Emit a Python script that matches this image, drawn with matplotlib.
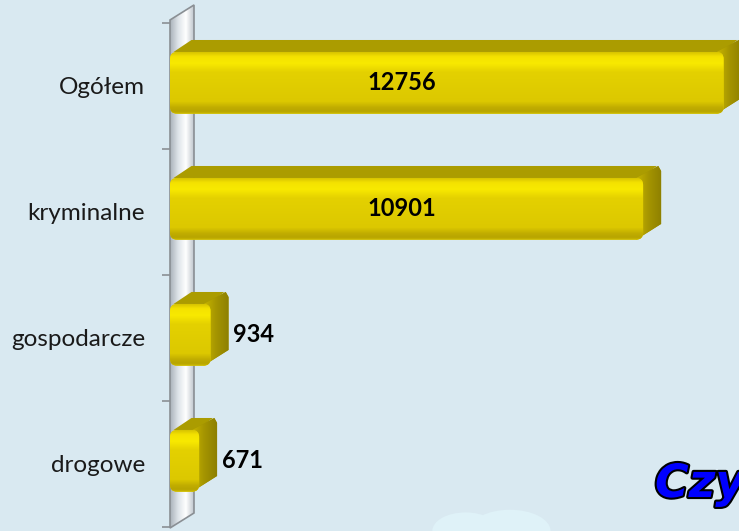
import numpy as np
import matplotlib
matplotlib.use('Agg')
import matplotlib.pyplot as plt
from matplotlib.patches import FancyBboxPatch, Polygon, Ellipse
from matplotlib.colors import LinearSegmentedColormap
import matplotlib.patheffects as pe

# data
categories = ['Ogółem', 'kryminalne', 'gospodarcze', 'drogowe']
values = [12756, 10901, 934, 671]

bg = '#d9e9f1'
W, H = 739, 531
fig = plt.figure(figsize=(W / 100, H / 100), dpi=100)
fig.patch.set_facecolor(bg)
ax = fig.add_axes([0, 0, 1, 1])
ax.set_facecolor(bg)

# pixel <-> data scale
kx = 0.0434          # px per unit on x
x0px = 170           # pixel of x = 0
y0px, band = 86, 126  # pixel centre of first category, px per category
xlim = (-x0px / kx, (W - x0px) / kx)
ylim = ((H - y0px) / band, -y0px / band)

dx = 18 / kx     # bar depth
dy = 12 / band
wall_dx = 24 / kx
wall_dy = 15 / band

# wall
wall = Polygon([(0, -0.524), (wall_dx, -0.524 - wall_dy), (wall_dx, 3.508 - wall_dy), (0, 3.508)],
               closed=True, facecolor='none', edgecolor='#8a8f94', lw=1.2, zorder=2)
ax.add_patch(wall)
wcmap = LinearSegmentedColormap.from_list('w', ['#aab2ba', '#dde3e8', '#ffffff', '#c0c7ce'])
grad = np.tile(np.linspace(0, 1, 64), (64, 1))
im = ax.imshow(grad, cmap=wcmap, extent=(0, wall_dx, 3.6, -0.8), aspect='auto', zorder=1)
im.set_clip_path(wall)

ypos = np.arange(len(categories))
bars = ax.barh(ypos - 0.025, values, height=0.49, color='#e2cf00', zorder=3)

fcmap = LinearSegmentedColormap.from_list('f', [
    (0.0, '#d8c400'), (0.07, '#f4e200'), (0.18, '#f8e900'), (0.32, '#e4d100'),
    (0.8, '#dcc800'), (0.9, '#c0ac00'), (0.96, '#b8a500'), (1.0, '#cdbb00')])
vgrad = np.linspace(0, 1, 128).reshape(-1, 1)
scmap = LinearSegmentedColormap.from_list('s', ['#c6b400', '#a49400', '#8e8000'])

for i, rect in enumerate(bars):
    bx = rect.get_x()
    bw = rect.get_width()
    yt = rect.get_y()
    yb = yt + rect.get_height()
    rect.set_visible(False)
    r = 7 / kx
    # top face
    top = Polygon([(bx + r * 0.5, yt), (bx + r * 0.5 + dx, yt - dy), (bx + bw + dx - r * 0.6, yt - dy),
                   (bx + bw - r * 0.3, yt)], closed=True, facecolor='#ab9c00', edgecolor='none', zorder=3)
    ax.add_patch(top)
    # right face
    side = Polygon([(bx + bw - r, yt), (bx + bw + dx - r * 0.4, yt - dy), (bx + bw + dx, yt - dy + 0.04),
                    (bx + bw + dx, yb - dy - 0.03), (bx + bw - r, yb)],
                   closed=True, facecolor='#a39400', edgecolor='none', zorder=3)
    ax.add_patch(side)
    sg = np.tile(np.linspace(0, 1, 32), (8, 1))
    sim = ax.imshow(sg, cmap=scmap, extent=(bx + bw - r, bx + bw + dx, yb, yt - dy),
                    aspect='auto', zorder=3.5)
    sim.set_clip_path(side)
    # front face
    front = FancyBboxPatch((bx, yt), bw, yb - yt,
                           boxstyle='round,pad=0,rounding_size=%f' % r,
                           mutation_aspect=kx / band,
                           facecolor='#e2cf00', edgecolor='none', zorder=4)
    ax.add_patch(front)
    fim = ax.imshow(vgrad, cmap=fcmap, extent=(bx, bx + bw, yb, yt), aspect='auto', zorder=4.5)
    fim.set_clip_path(front)

    v = values[i]
    yc = (yt + yb) / 2
    if v > 3000:
        ax.text(5350, yc, str(v), ha='center', va='center', fontsize=17,
                fontweight='bold', family='Lato', color='black', zorder=6)
    else:
        ax.text(v + 520, yc, str(v), ha='left', va='center', fontsize=17,
                fontweight='bold', family='Lato', color='black', zorder=6)

# category axis
ax.spines['left'].set_position(('data', 0))
for s in ax.spines.values():
    s.set_visible(False)
ax.set_yticks(ypos)
ax.set_yticklabels(categories, fontsize=17.5, family='Lato', color='#1a1a1a')
ax.tick_params(axis='y', which='major', length=0, pad=18)
ax.set_yticks(np.arange(-0.5, 4, 1.0), minor=True)
ax.tick_params(axis='y', which='minor', length=6, width=1.2, color='#8a8f94', direction='out')
ax.set_xticks([])

# faint cloud
for cx, cw, ch in [(0.63, 0.09, 0.07), (0.69, 0.11, 0.08)]:
    ax.add_patch(Ellipse((cx, 0.0), cw, ch, transform=ax.transAxes,
                         facecolor='#dff2f8', edgecolor='none', zorder=0.5))

fig.text(655 / W, 1 - 497 / H, 'Czyny', fontsize=33, fontweight='bold', style='italic',
         family='DejaVu Sans', color='#0000ff', va='baseline', ha='left',
         path_effects=[pe.withStroke(linewidth=3, foreground='black')])

ax.set_xlim(*xlim)
ax.set_ylim(*ylim)
fig.savefig('out.png', dpi=100, facecolor=bg)
